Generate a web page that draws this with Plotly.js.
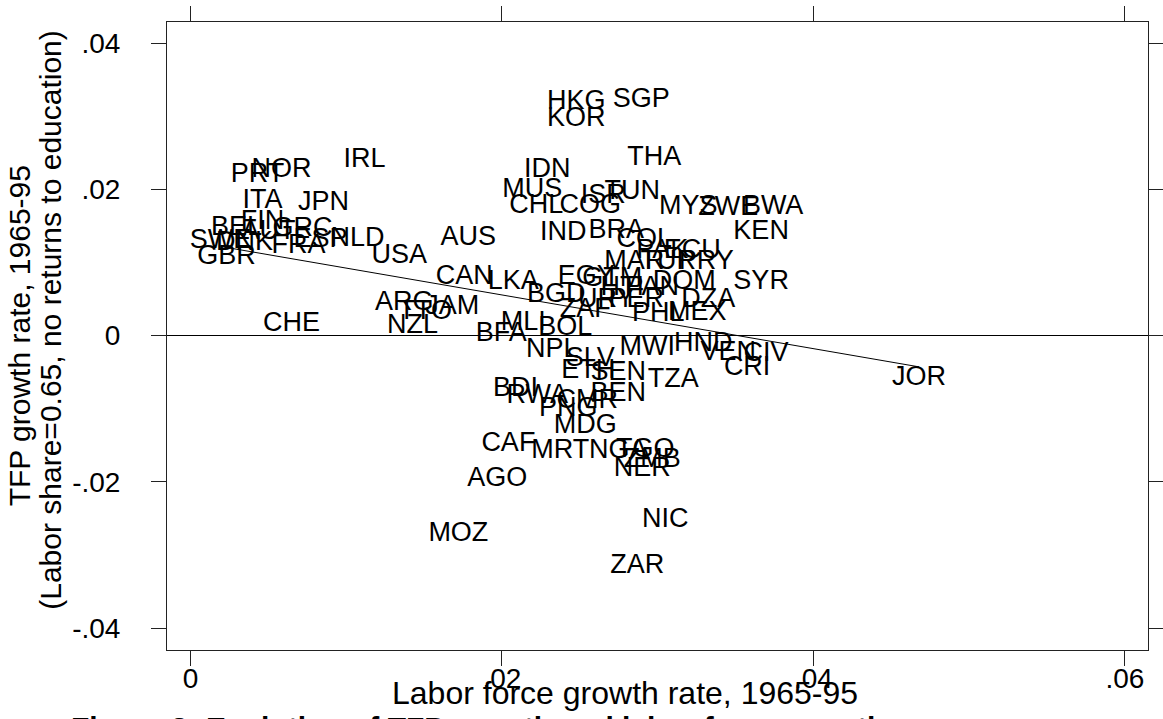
<!DOCTYPE html>
<html>
<head>
<meta charset="utf-8">
<script src="https://cdn.plot.ly/plotly-3.0.1.min.js"></script>
<style>html,body{margin:0;padding:0;background:#fff;}#chart{width:1163px;height:719px;}</style>
</head>
<body>
<div id="chart"></div>
<script>
// Country codes (labels drawn at each data point)
const countries = ["HKG","SGP","KOR","IRL","NOR","PRT","THA","IDN","ITA","JPN",
  "MUS","ISR","TUN","CHL","COG","MYS","ZWE","BWA","KEN","BEL",
  "FIN","AUT","GRC","ESP","NLD","SWE","DNK","FRA","GBR","AUS",
  "USA","IND","BRA","COL","PAK","ECU","MAR","TUR","PRY","DOM",
  "SYR","LKA","CAN","EGY","GTM","HTI","PAN","BGD","URY","PER",
  "DZA","ZAF","PHL","MEX","ARG","TTO","JAM","MLI","BFA","BOL",
  "CHE","NZL","NPL","SLV","ETH","SEN","MWI","HND","VEN","CIV",
  "CRI","TZA","JOR","BDI","RWA","CMR","BEN","PNG","MDG","CAF",
  "MRT","NGA","TGO","ZMB","NER","AGO","MOZ","NIC","ZAR"];

// Labor force growth rate, 1965-95
const laborGrowth = [0.02477,0.02894,0.02477,0.01117,0.00584,0.00430,0.02978,0.02291,0.00462,0.00854,
  0.02195,0.02650,0.02836,0.02220,0.02567,0.03196,0.03453,0.03741,0.03664,0.00295,
  0.00462,0.00501,0.00719,0.00834,0.01072,0.00193,0.00347,0.00693,0.00231,0.01784,
  0.01341,0.02394,0.02734,0.02913,0.03029,0.03221,0.02849,0.03067,0.03311,0.03170,
  0.03664,0.02073,0.01758,0.02541,0.02708,0.02772,0.02965,0.02349,0.02670,0.02862,
  0.03324,0.02535,0.03003,0.03254,0.01373,0.01508,0.01681,0.02137,0.01996,0.02406,
  0.00648,0.01425,0.02323,0.02567,0.02554,0.02747,0.02933,0.03292,0.03453,0.03696,
  0.03574,0.03100,0.04678,0.02086,0.02227,0.02548,0.02747,0.02426,0.02535,0.02041,
  0.02374,0.02747,0.02920,0.02965,0.02901,0.01970,0.01720,0.03048,0.02869];

// TFP growth rate, 1965-95 (labor share = 0.65, no returns to education)
const tfpGrowth = [0.03192,0.03219,0.02959,0.02399,0.02262,0.02194,0.02426,0.02262,0.01838,0.01811,
  0.01989,0.01907,0.01961,0.01770,0.01770,0.01756,0.01743,0.01756,0.01415,0.01469,
  0.01551,0.01415,0.01456,0.01305,0.01319,0.01292,0.01264,0.01223,0.01073,0.01333,
  0.01087,0.01401,0.01428,0.01305,0.01155,0.01155,0.01005,0.01005,0.01005,0.00731,
  0.00731,0.00731,0.00800,0.00800,0.00772,0.00649,0.00649,0.00554,0.00485,0.00485,
  0.00485,0.00349,0.00294,0.00308,0.00444,0.00321,0.00390,0.00171,0.00021,0.00103,
  0.00157,0.00130,-0.00198,-0.00321,-0.00485,-0.00513,-0.00171,-0.00116,-0.00239,-0.00253,
  -0.00444,-0.00608,-0.00581,-0.00731,-0.00827,-0.00895,-0.00800,-0.01005,-0.01237,-0.01483,
  -0.01579,-0.01579,-0.01565,-0.01702,-0.01825,-0.01961,-0.02713,-0.02522,-0.03151];

// Linear fit
const fitIntercept = 0.0129;
const fitSlope = -0.367;

// Tick labels
const xTickVals = [0, 0.02, 0.04, 0.06];
const xTickText = ["0", ".02", ".04", ".06"];
const yTickVals = [-0.04, -0.02, 0, 0.02, 0.04];
const yTickText = ["-.04", "-.02", "0", ".02", ".04"];

// Titles
const xTitle = "Labor force growth rate, 1965-95";
const yTitleLine1 = "TFP growth rate, 1965-95";
const yTitleLine2 = "(Labor share=0.65, no returns to education)";
const caption = "Figure 3: Evolution of TFP growth and labor force growth";

const xMin = Math.min(...laborGrowth), xMax = Math.max(...laborGrowth);
const fitX = [xMin, xMax];
const fitY = fitX.map(v => fitIntercept + fitSlope * v);

const FONT = "Liberation Sans, Arial, Helvetica, sans-serif";

const traces = [
  {
    x: fitX, y: fitY, mode: "lines", type: "scatter",
    line: {color: "#000", width: 1}, hoverinfo: "skip", showlegend: false
  },
  {
    x: laborGrowth, y: tfpGrowth, text: countries, mode: "text", type: "scatter",
    textposition: "middle center",
    textfont: {family: FONT, size: 27, color: "#000"},
    showlegend: false, hoverinfo: "text"
  }
];

const axisCommon = {
  showgrid: false, showline: true, mirror: "allticks", linecolor: "#222", linewidth: 1,
  ticks: "outside", ticklen: 15, tickwidth: 1, tickcolor: "#222",
  tickfont: {family: FONT, size: 28, color: "#000"}
};

const layout = {
  width: 1163, height: 719,
  margin: {l: 167, r: 15, t: 22, b: 69, pad: 0},
  paper_bgcolor: "#fff", plot_bgcolor: "#fff",
  font: {family: FONT, color: "#000"},
  xaxis: Object.assign({}, axisCommon, {
    range: [-0.00151, 0.06148], tickvals: xTickVals, ticktext: xTickText,
    zeroline: false, ticklabelstandoff: -12
  }),
  yaxis: Object.assign({}, axisCommon, {
    range: [-0.04297, 0.04287], tickvals: yTickVals, ticktext: yTickText,
    zeroline: true, zerolinecolor: "#000", zerolinewidth: 1,
    ticklabelstandoff: 25
  }),
  annotations: [
    {
      text: xTitle, xref: "paper", yref: "paper", x: 0.4669, y: -0.0685,
      xanchor: "center", yanchor: "middle", showarrow: false,
      font: {family: FONT, size: 32, color: "#000"}
    },
    {
      text: yTitleLine1, xref: "paper", yref: "paper", x: -0.1505, y: 0.5,
      xanchor: "center", yanchor: "middle", textangle: -90, showarrow: false,
      font: {family: FONT, size: 30, color: "#000"}
    },
    {
      text: yTitleLine2, xref: "paper", yref: "paper", x: -0.1185, y: 0.5255,
      xanchor: "center", yanchor: "middle", textangle: -90, showarrow: false,
      font: {family: FONT, size: 30, color: "#000"}
    },
    {
      text: "<b>" + caption + "</b>",
      xref: "paper", yref: "paper", x: -0.10, y: -0.0935, xanchor: "left", yanchor: "top",
      showarrow: false, font: {family: FONT, size: 30, color: "#000"}
    }
  ]
};

Plotly.newPlot("chart", traces, layout, {displayModeBar: false, staticPlot: true});
</script>
</body>
</html>
